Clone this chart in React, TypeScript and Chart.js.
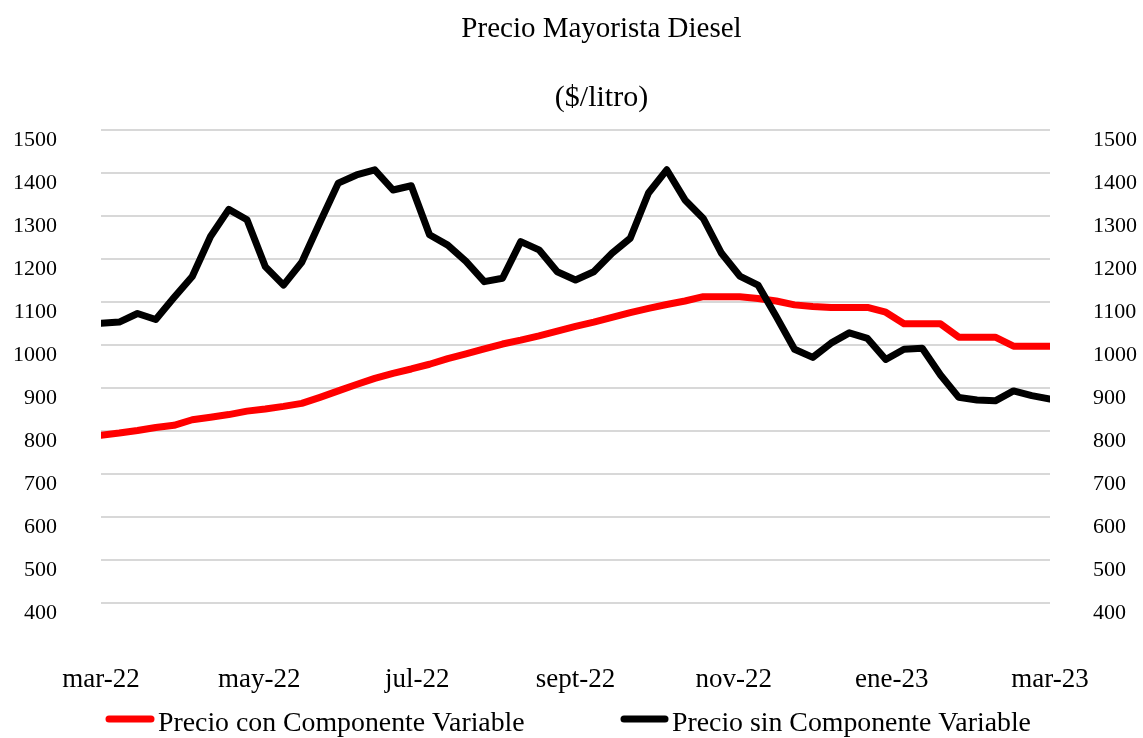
import React, { useEffect, useRef } from "react";
import { Chart, registerables } from "chart.js";

Chart.register(...registerables);

// ---- data ----
const monthLabels = ["mar-22", "may-22", "jul-22", "sept-22", "nov-22", "ene-23", "mar-23"];
const seriesNames = ["Precio con Componente Variable", "Precio sin Componente Variable"];
const seriesColors = ["#ff0000", "#000000"];
const titleText = "Precio Mayorista Diesel";
const subtitleText = "($/litro)";
const yMin = 400;
const yMax = 1500;
const yStep = 100;

// weekly values, mar-22 .. mar-23 (53 weeks)
const conComponente = [
  790, 795, 801, 808, 813, 826, 832, 838, 846, 851, 857, 864, 878, 893, 908, 922,
  934, 944, 955, 968, 979, 991, 1002, 1011, 1021, 1032, 1043, 1053, 1064, 1075, 1085, 1094,
  1102, 1112, 1112, 1112, 1108, 1102, 1093, 1089, 1087, 1087, 1087, 1076, 1049, 1049, 1049, 1018,
  1018, 1018, 997, 997, 997,
];
const sinComponente = [
  1050, 1053, 1073, 1059, 1110, 1159, 1252, 1315, 1291, 1182, 1139, 1192, 1285, 1376, 1395, 1407,
  1360, 1370, 1256, 1232, 1194, 1147, 1155, 1240, 1221, 1170, 1151, 1170, 1213, 1248, 1353, 1407,
  1337, 1294, 1213, 1160, 1139, 1066, 990, 971, 1004, 1028, 1015, 966, 990, 992, 930, 878,
  872, 870, 893, 882, 874,
];

const FONT = "'Liberation Serif', 'Times New Roman', serif";

// shift title/subtitle boxes so they are centred like the reference
const titleShiftPlugin = {
  id: "titleShift",
  afterLayout(chart: any) {
    (chart.boxes || []).forEach((b: any) => {
      const t = b && b.options && b.options.text;
      if (t === titleText || t === subtitleText) {
        b.left += 60;
      }
    });
  },
};

const legendPlugin = {
  id: "manualLegend",
  afterDraw(chart: any) {
    const ctx = chart.ctx;
    const slots = [
      { sx: 106, ex: 154, tx: 158 },
      { sx: 621, ex: 668, tx: 672 },
    ];
    ctx.save();
    chart.data.datasets.forEach((ds: any, i: number) => {
      const s = slots[i];
      if (!s) return;
      ctx.beginPath();
      ctx.strokeStyle = ds.borderColor;
      ctx.lineWidth = 7;
      ctx.lineCap = "round";
      ctx.moveTo(s.sx + 3, 719);
      ctx.lineTo(s.ex - 3, 719);
      ctx.stroke();
      ctx.fillStyle = "#000";
      ctx.font = `27.8px ${FONT}`;
      ctx.textBaseline = "alphabetic";
      ctx.textAlign = "left";
      ctx.fillText(ds.label, s.tx, 731);
    });
    ctx.restore();
  },
};

export default function App() {
  const ref = useRef<HTMLCanvasElement | null>(null);

  useEffect(() => {
    if (!ref.current) return;
    const lastIdx = conComponente.length - 1;
    const chart = new Chart(ref.current, {
      type: "line",
      data: {
        datasets: [
          {
            label: seriesNames[0],
            data: conComponente.map((v, i) => ({ x: i, y: v })),
            borderColor: seriesColors[0],
            backgroundColor: seriesColors[0],
            borderWidth: 7,
            pointRadius: 0,
            tension: 0,
            borderJoinStyle: "round",
            borderCapStyle: "round",
            order: 1,
          },
          {
            label: seriesNames[1],
            data: sinComponente.map((v, i) => ({ x: i, y: v })),
            borderColor: seriesColors[1],
            backgroundColor: seriesColors[1],
            borderWidth: 7,
            pointRadius: 0,
            tension: 0,
            borderJoinStyle: "round",
            borderCapStyle: "round",
            order: 0,
          },
        ],
      },
      options: {
        animation: false,
        responsive: true,
        maintainAspectRatio: false,
        layout: { padding: { top: 0, bottom: 0, left: 0, right: 0 } },
        plugins: {
          legend: { display: false },
          tooltip: { enabled: false },
          title: {
            display: true,
            text: titleText,
            color: "#000",
            font: { family: FONT, size: 29, weight: "normal" },
            padding: { top: 12, bottom: 33 },
          },
          subtitle: {
            display: true,
            text: subtitleText,
            color: "#000",
            font: { family: FONT, size: 30, weight: "normal" },
            padding: { top: 0, bottom: 14 },
          },
        },
        scales: {
          x: {
            type: "linear",
            min: 0,
            max: lastIdx,
            offset: false,
            grid: { display: false, drawTicks: true, tickLength: 61, color: "rgba(0,0,0,0)" },
            border: { display: false },
            afterFit: (scale: any) => {
              scale.height = 135;
            },
            afterBuildTicks: (scale: any) => {
              scale.ticks = monthLabels.map((_, i) => ({
                value: (i * lastIdx) / (monthLabels.length - 1),
              }));
            },
            ticks: {
              autoSkip: false,
              maxRotation: 0,
              padding: 0,
              color: "#000",
              font: { family: FONT, size: 27 },
              callback: (_v: any, i: number) => monthLabels[i],
            },
          },
          y: {
            position: "left",
            min: yMin,
            max: yMax,
            grid: { color: "#d8d8d8", lineWidth: 2, drawTicks: false },
            border: { display: false },
            afterFit: (scale: any) => {
              scale.width = 101;
            },
            ticks: {
              stepSize: yStep,
              padding: 44,
              labelOffset: 10,
              color: "#000",
              font: { family: FONT, size: 22 },
              callback: (v: any) => String(v),
            },
          },
          y2: {
            position: "right",
            min: yMin,
            max: yMax,
            grid: { display: false, drawTicks: false },
            border: { display: false },
            afterFit: (scale: any) => {
              scale.width = 93;
            },
            ticks: {
              stepSize: yStep,
              padding: 43,
              labelOffset: 10,
              color: "#000",
              font: { family: FONT, size: 22 },
              callback: (v: any) => String(v),
            },
          },
        },
      },
      plugins: [titleShiftPlugin, legendPlugin],
    });
    return () => chart.destroy();
  }, []);

  return (
    <div style={{ position: "fixed", left: 0, top: 0, width: 1143, height: 738, background: "#fff" }}>
      <canvas ref={ref} />
    </div>
  );
}
